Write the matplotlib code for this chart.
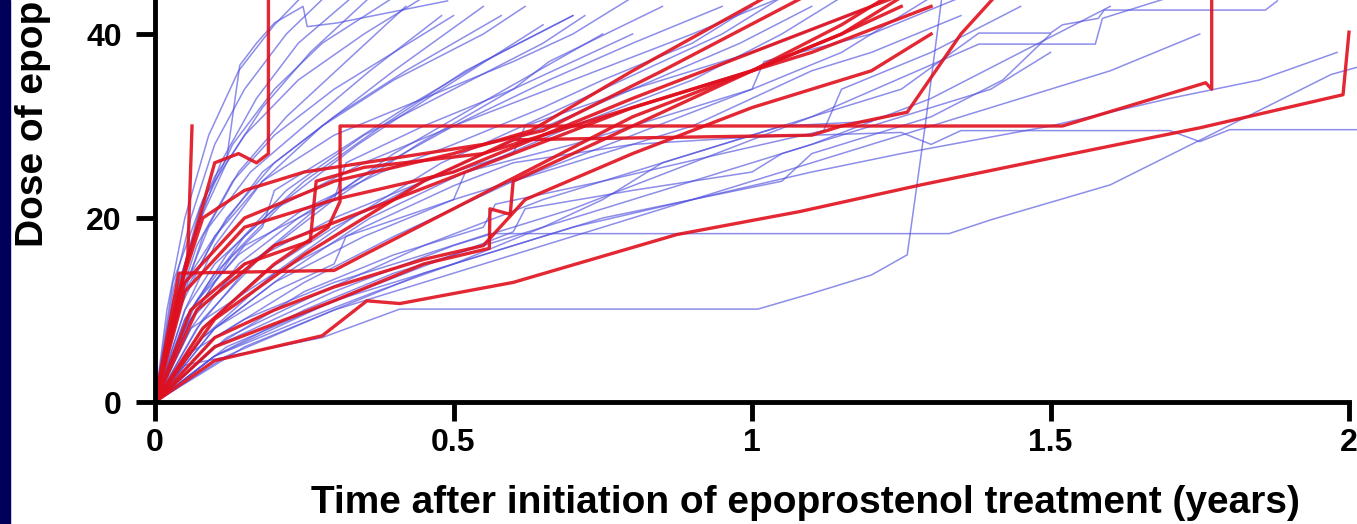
import matplotlib
matplotlib.use("Agg")
import matplotlib.pyplot as plt
from matplotlib.patches import Rectangle

# time (years) and dose for each patient
blue_t = [
    [0, .025, .05, .075, .10, .12, .142, .17, .20, .248, .255, .305, .49],
    [0, .03, .06, .10, .15, .22, .30],
    [0, .03, .07, .12, .18, .26, .36],
    [0, .04, .08, .14, .22, .32, .42],
    [0, .04, .09, .16, .25, .36, .48],
    [0, .05, .10, .18, .28, .40, .55],
    [0, .05, .12, .20, .30, .42, .58],
    [0, .06, .13, .22, .34, .48, .65],
    [0, .06, .15, .25, .38, .52, .70],
    [0, .07, .16, .27, .40, .56, .75],
    [0, .08, .18, .30, .44, .60, .80],
    [0, .05, .10, .15, .30, .32, .45, .60, .66, .85],
    [0, .08, .20, .33, .48, .65, .85, .95, 1.05],
    [0, .10, .22, .36, .52, .70, .90, 1.05, 1.15],
    [0, .10, .25, .40, .60, .80, 1.00, 1.15, 1.30],
    [0, .12, .28, .45, .65, .85, 1.05, 1.25, 1.38, 1.50, 1.52, 1.58, 1.59, 1.86, 1.88],
    [0, .10, .30, .50, .70, .90, 1.10, 1.38, 1.575, 1.587, 1.70],
    [0, .05, .15, .30, .45, .56, 1.33, 1.40, 1.60, 1.77, 1.97, 2.02],
    [0, .05, .28, .41, 1.01, 1.10, 1.20, 1.26, 1.29, 1.32],
    [0, .06, .20, .35, .50, .60, .80, 1.00, 1.25, 1.30, 1.35, 1.70, 1.75, 1.80, 2.02],
    [0, .10, .25, .40, .55, .70, .90, 1.10, 1.30, 1.45, 1.60],
    [0, .12, .30, .50, .70, .90, 1.10, 1.25, 1.50, 1.70, 1.85, 1.98],
    [0, .08, .20, .35, .50, .52, .70, .90, 1.00, 1.02, 1.20, 1.35],
    [0, .10, .25, .40, .55, .57, .75, .95, 1.12, 1.15, 1.30, 1.45],
    [0, .06, .15, .30, .45, .60, .62, .80, 1.00, 1.20],
    [0, .15, .30, .45, .60, .75, .90, 1.05, 1.10, 1.30, 1.42, 1.50],
    [0, .05, .10, .20, .35, .50, .70, .90, 1.05],
    [0, .04, .10, .18, .30, .45, .60, .70, .80],
    [0, .07, .14, .25, .38, .50, .65, .75, .90, 1.00],
    [0, .10, .20, .30, .32, .50, .70, .90, 1.00, 1.10, 1.20, 1.35],
    [0, .02, .05, .09, .14, .20, .26],
    [0, .03, .06, .11, .17, .24, .33],
    [0, .02, .04, .08, .13, .20, .28, .40],
    [0, .10, .20, .30, .40, .50, .60, .62, .80, 1.00, 1.05, 1.20, 1.40, 1.50],
    [0, .10, .25, .37, .50, .65, .75, .85, .95, 1.05, 1.20],
    [0, .03, .07, .13, .20, .30, .40, .50],
    [0, .04, .10, .18, .28, .40, .55, .62],
    [0, .05, .12, .22, .35, .50, .65, .72],
    [0, .03, .08, .15, .24, .35, .45],
    [0, .06, .14, .24, .36, .50, .66, .80, .95],
    [0, .08, .18, .30, .45, .62, .80, .98, 1.10],
    [0, .12, .30, .45, .60, .80, 1.00, 1.20, 1.40, 1.60, 1.75],
    [0, .05, .10, .18, .20, .30, .42, .55, .70],
]
blue_dose = [
    [0, 8, 15, 21, 24.5, 26.4, 36.6, 39, 41.2, 43, 40.8, 41.2, 43.6],
    [0, 12, 20, 28, 34, 40, 45],
    [0, 11, 19, 26, 32, 38, 44],
    [0, 10, 18, 25, 31, 37, 43],
    [0, 11, 19, 25, 30, 36, 42],
    [0, 10, 17, 24, 30, 36, 43],
    [0, 12, 20, 26, 31, 36, 42],
    [0, 9, 16, 22, 28, 34, 41],
    [0, 10, 18, 24, 30, 36, 42],
    [0, 8, 15, 21, 27, 33, 40],
    [0, 9, 16, 22, 28, 34, 40],
    [0, 8, 13, 17, 22, 26, 30, 34, 37, 43],
    [0, 7, 14, 20, 26, 31, 37, 40, 44],
    [0, 8, 14, 20, 25, 30, 35, 40, 44],
    [0, 7, 13, 18, 24, 29, 34, 38, 44],
    [0, 7, 12, 17, 22, 26, 30, 34, 40.1, 40.1, 41, 41.7, 42.6, 42.6, 43.6],
    [0, 6, 12, 17, 21, 26, 31, 38.9, 38.9, 41.7, 44],
    [0, 5, 9, 13, 16, 18.3, 18.3, 19.8, 23.6, 29.1, 35.6, 36.5],
    [0, 4, 7, 10.1, 10.1, 11.8, 13.8, 16, 30, 45],
    [0, 8, 14, 19, 23.5, 26, 28, 28.8, 29.3, 28, 29.5, 29.5, 28.3, 29.6, 29.6],
    [0, 5, 10, 14, 17, 20, 24, 28, 33, 38, 43],
    [0, 6, 11, 15, 19, 22, 25, 27, 30, 33, 35, 38],
    [0, 7, 13, 18, 22, 25, 28, 32, 34, 37, 40, 44],
    [0, 6, 12, 16, 19, 21.5, 24, 27, 29.5, 34, 38, 43],
    [0, 9, 15, 20, 24, 27, 30, 34, 38, 43],
    [0, 6, 10, 14, 17, 20, 22, 24, 27, 31, 35, 40],
    [0, 10, 15, 21, 26, 30, 35, 40, 44],
    [0, 12, 18, 24, 29, 33, 37, 40, 44],
    [0, 11, 16, 21, 25, 28, 32, 35, 39, 43],
    [0, 8, 12, 15, 18, 22, 26, 30, 33, 36, 38, 42],
    [0, 10, 20, 29, 36, 41, 45],
    [0, 9, 17, 26, 33, 39, 44],
    [0, 7, 13, 21, 28, 34, 39, 44],
    [0, 5, 8, 11, 13.5, 16, 18.5, 21, 23, 25, 27, 30, 34, 38],
    [0, 5, 9, 12, 15, 19, 22, 26, 28, 30, 30.5],
    [0, 9, 17, 24, 29, 34, 38, 42],
    [0, 10, 18, 25, 30, 35, 40, 43],
    [0, 9, 16, 23, 29, 34, 39, 42],
    [0, 13, 22, 29, 35, 40, 44],
    [0, 8, 15, 20, 25, 30, 35, 39, 43],
    [0, 8, 14, 19, 24, 29, 34, 39, 43],
    [0, 5, 10, 13, 16, 20, 24, 28, 32, 36, 40],
    [0, 9, 14, 19, 23, 27, 32, 37, 42],
]

red_t = [
    [0, .03, .055, .062],
    [0, .04, .10, .14, .17, .19, .19],
    [0, .08, .20, .29, .31, .31, 1.52, 1.76, 1.77, 1.77],
    [0, .10, .28, .355, .41, .60, .874, 1.08, 1.283, 1.50, 1.75, 1.99, 2.0],
    [0, .04, .30, .35, .50, .65, .80, 1.00, 1.15, 1.25],
    [0, .10, .30, .45, .56, .561, .595, .60, .80, 1.00, 1.15, 1.25],
    [0, .05, .15, .30, .50, .65, .80, 1.00, 1.20, 1.28],
    [0, .07, .20, .40, .60, .80, 1.00, 1.15, 1.25],
    [0, .10, .25, .45, .60, 1.10, 1.15, 1.26, 1.35, 1.42],
    [0, .05, .15, .30, .50, .63, .80, 1.02],
    [0, .06, .15, .26, .27, .35, .55, .70, .90, 1.10, 1.30],
    [0, .04, .08, .15, .25, .40, .55, .65, .85, 1.08],
    [0, .10, .20, .30, .45, .55, .62, .80, 1.00, 1.20, 1.30],
]
red_dose = [
    [0, 8, 16, 30],
    [0, 12, 26, 27, 26, 27, 46],
    [0, 8, 15, 19, 21.8, 30, 30, 34.7, 34, 46],
    [0, 4.5, 7.2, 11, 10.7, 13, 18.2, 20.7, 23.6, 26.5, 29.8, 33.4, 40.2],
    [0, 14, 14.3, 16, 21, 26, 31, 36, 40, 43],
    [0, 6, 11, 15, 16.7, 21, 20.4, 24, 30, 36, 41, 45],
    [0, 12, 19, 22, 25, 29, 33, 38, 43, 45],
    [0, 10, 17, 22, 27, 32, 36, 40, 44],
    [0, 9, 16, 24, 28.5, 29, 30, 31.5, 40, 45],
    [0, 13, 20, 24, 27, 29.5, 36, 43.9],
    [0, 10, 15, 17.5, 24, 25.5, 27, 30, 34, 38, 43],
    [0, 12, 20, 23, 25, 26.5, 28, 29.5, 36, 43.8],
    [0, 7, 10, 12.5, 15.5, 17, 22, 27, 32, 36, 40],
]

x_ticks = [0, 0.5, 1, 1.5, 2]
x_labels = ["0", "0.5", "1", "1.5", "2"]
y_ticks = [0, 20, 40]

plt.rcParams["font.family"] = ["Liberation Sans", "DejaVu Sans"]
plt.rcParams["font.weight"] = "bold"

W, H = 1357, 524
fig = plt.figure(figsize=(W / 100, H / 100), dpi=100)
fig.patches.append(Rectangle((0, 0), 10 / W, 1, transform=fig.transFigure,
                             color="#00005a", zorder=0))

ax = fig.add_axes([155 / W, 122 / H, (W - 155) / W, 402 / H])
for t, d in zip(blue_t, blue_dose):
    ax.plot(t, d, color="#5050e0", lw=1.1, alpha=0.65)
for t, d in zip(red_t, red_dose):
    ax.plot(t, d, color="#e0101e", lw=2.4, alpha=0.9)

ax.set_xlim(0, (W - 155) / 597)
ax.set_ylim(0, 402 / 9.2)
ax.spines["top"].set_visible(False)
ax.spines["right"].set_visible(False)
ax.spines["bottom"].set_bounds(0, 2)
for s in ["left", "bottom"]:
    ax.spines[s].set_linewidth(3.5)
ax.set_xticks(x_ticks)
ax.set_xticklabels(x_labels)
ax.set_yticks(y_ticks)
ax.tick_params(direction="out", length=14, width=3.5, labelsize=23)
ax.tick_params(axis="y", pad=10)
ax.tick_params(axis="x", pad=5)

fig.text(805 / W, 1 - 503 / H,
         "Time after initiation of epoprostenol treatment (years)",
         fontsize=28, fontweight="bold", ha="center", va="center")
fig.text(33 / W, 1 - 247 / H, "Dose of epoprostenol (ng/kg/min)",
         fontsize=28, fontweight="bold", rotation=90, ha="center", va="bottom")

fig.savefig("out.png", dpi=100)
